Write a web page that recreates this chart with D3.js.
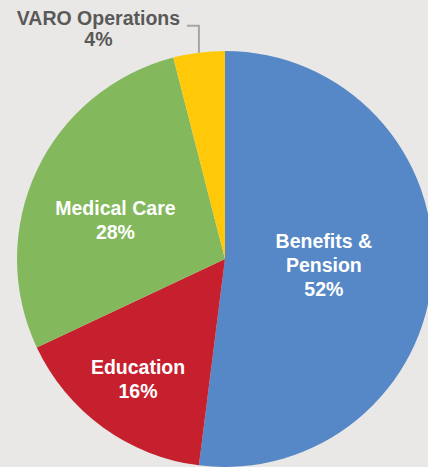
<!DOCTYPE html>
<html>
<head>
<meta charset="utf-8">
<script src="https://cdn.jsdelivr.net/npm/d3@7"></script>
<style>
  html, body { margin: 0; padding: 0; background: #e9e8e6; }
  svg { display: block; }
</style>
</head>
<body>
<script>
// ---- data ----
const categories = ["Benefits & Pension", "Education", "Medical Care", "VARO Operations"];
const values = [52, 16, 28, 4];
const labelLines = [["Benefits &", "Pension", "52%"], ["Education", "16%"], ["Medical Care", "28%"], ["VARO Operations", "4%"]];
const colors = ["#5688c7", "#c6202e", "#83b85c", "#ffc90a"];

// ---- layout ----
const W = 428, H = 467;
const cx = 225, cy = 259, R = 208;
const fontSize = 19.5, lineH = 24;
// label radius and nudges per slice (layout only)
const labelRadius = [98, 148, 120, null];
const labelNudge = [[1, 0], [0, 0], [-1, 12], [0, 0]];

const svg = d3.select("body").append("svg").attr("width", W).attr("height", H);
const g = svg.append("g").attr("transform", `translate(${cx},${cy})`);

const pie = d3.pie().sort(null).value(d => d.value);
const data = categories.map((c, i) => ({ name: c, value: values[i], i }));
const arcs = pie(data);
const arc = d3.arc().innerRadius(0).outerRadius(R);

g.selectAll("path.slice").data(arcs).enter().append("path")
  .attr("class", "slice")
  .attr("d", arc)
  .attr("fill", d => colors[d.data.i]);

// inside labels
arcs.forEach((d, i) => {
  const lines = labelLines[i];
  if (labelRadius[i] == null) return;
  const la = d3.arc().innerRadius(labelRadius[i]).outerRadius(labelRadius[i]);
  const [x, y] = la.centroid(d);
  const x0 = x + labelNudge[i][0], y0 = y + labelNudge[i][1];
  const t = g.append("text")
    .attr("text-anchor", "middle")
    .attr("font-family", "'Liberation Sans', Arial, sans-serif")
    .attr("font-weight", "bold")
    .attr("font-size", fontSize)
    .attr("fill", "#ffffff");
  const firstBase = y0 - (lines.length - 1) * lineH / 2 + fontSize * 0.35;
  lines.forEach((ln, k) => {
    t.append("tspan").attr("x", x0).attr("y", firstBase + k * lineH).text(ln);
  });
});

// outside label with leader line for small slice
{
  const i = 3, d = arcs[i];
  const mid = (d.startAngle + d.endAngle) / 2;
  const px = R * Math.sin(mid), py = -R * Math.cos(mid);
  const elbowY = py - 27, endX = px - 12;
  g.append("path")
    .attr("d", d3.line()([[px, py], [px, elbowY], [endX, elbowY]]))
    .attr("fill", "none")
    .attr("stroke", "#a6a6a6")
    .attr("stroke-width", 2);
  const t = g.append("text")
    .attr("text-anchor", "middle")
    .attr("font-family", "'Liberation Sans', Arial, sans-serif")
    .attr("font-weight", "bold")
    .attr("font-size", fontSize)
    .attr("fill", "#595959");
  const lx = endX - 88.5;
  labelLines[i].forEach((ln, k) => {
    t.append("tspan").attr("x", lx).attr("y", elbowY - 0.5 + k * 21).text(ln);
  });
}
</script>
</body>
</html>
